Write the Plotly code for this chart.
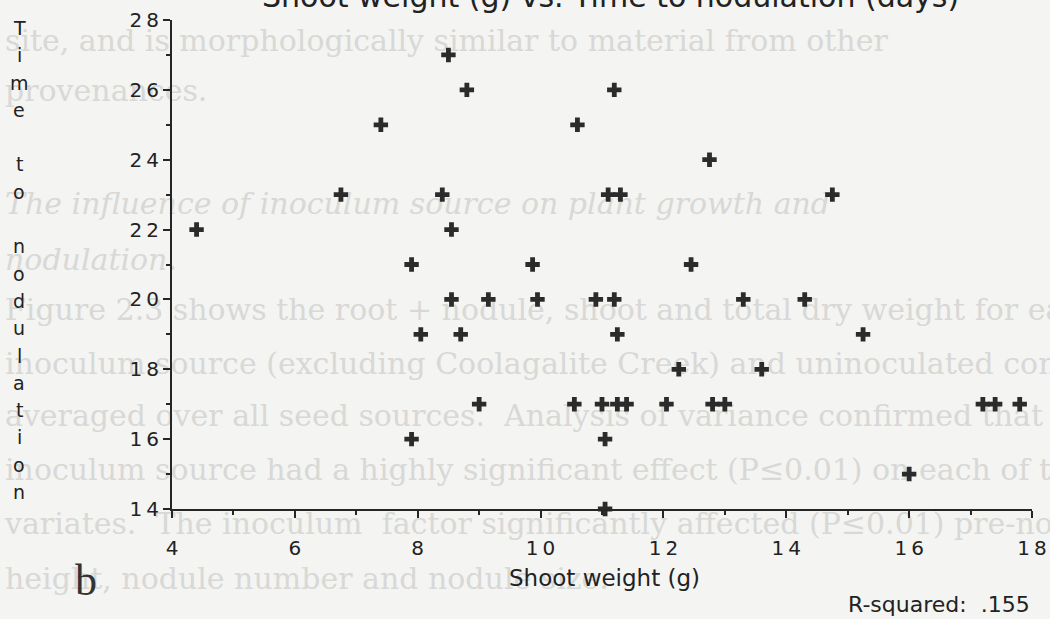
import plotly.graph_objects as go

# ---------------- data ----------------
shoot_weight = [4.4, 6.75, 7.4, 8.5, 8.8, 8.4, 8.55, 7.9, 8.55, 9.15, 8.05, 8.7, 9.95, 9.0, 7.9, 10.55,
                11.2, 10.6, 12.75, 11.1, 11.3, 14.75, 9.87, 12.45,
                10.9, 11.2, 11.25, 12.25, 13.3, 14.3, 13.6, 15.25,
                11.0, 11.25, 11.4, 12.05, 12.8, 13.0, 11.05, 11.05, 16.0, 17.2, 17.4, 17.8]
time_to_nodulation = [22, 23, 25, 27, 26, 23, 22, 21, 20, 20, 19, 19, 20, 17, 16, 17,
                      26, 25, 24, 23, 23, 23, 21, 21,
                      20, 20, 19, 18, 20, 20, 18, 19,
                      17, 17, 17, 17, 17, 17, 16, 14, 15, 17, 17, 17]
x_ticks = [4, 6, 8, 10, 12, 14, 16, 18]
y_ticks = [14, 16, 18, 20, 22, 24, 26, 28]
title_text = "Shoot weight (g) vs. Time to nodulation (days)"
x_title = "Shoot weight (g)"
y_title = "Time to nodulation"
r_squared = "R-squared:  .155"
panel_label = "b"
page_lines = [
    ("site, and is morphologically similar to material from other", False, 38),
    ("provenances.", False, 88),
    ("The influence of inoculum source on plant growth and", True, 201),
    ("nodulation.", True, 257),
    ("Figure 2.3 shows the root + nodule, shoot and total dry weight for each", False, 307),
    ("inoculum source (excluding Coolagalite Creek) and uninoculated control", False, 361),
    ("averaged over all seed sources.  Analysis of variance confirmed that", False, 413),
    ("inoculum source had a highly significant effect (P\u22640.01) on each of the", False, 467),
    ("variates.  The inoculum  factor significantly affected (P\u22640.01) pre-nodulation", False, 521),
    ("height, nodule number and nodule size.", False, 576),
]

# ---------------- layout geometry ----------------
W, H = 1050, 619
L, R, T, B = 172, 18, 20, 110
PW, PH = W - L - R, H - T - B


def px(x):
    return (x - L) / PW


def py(y):
    return (H - B - y) / PH


BG = "#f4f4f2"
INK = "#262626"
SANS = "DejaVu Sans, Arial, sans-serif"
SERIF = "DejaVu Serif, Liberation Serif, serif"
THIN = "\u2009"

fig = go.Figure()
fig.add_trace(go.Scatter(
    x=shoot_weight, y=time_to_nodulation, mode="markers",
    marker=dict(symbol="cross", size=12, color="#2b2b2b", line=dict(width=0)),
    cliponaxis=False, showlegend=False, hoverinfo="x+y",
))

# faint page text showing through (drawn below the data)
shapes = []
for text, italic, yc in page_lines:
    shapes.append(dict(
        type="rect", xref="paper", yref="paper", layer="below",
        x0=px(2), x1=px(1300), y0=py(yc + 18), y1=py(yc - 18),
        line=dict(width=0), fillcolor="rgba(0,0,0,0)",
        label=dict(text=text, textposition="middle left", padding=0,
                   font=dict(family=SERIF, size=30, color="#d8d8d6",
                             style="italic" if italic else "normal")),
    ))

axis_common = dict(
    showline=True, linecolor=INK, linewidth=2, mirror=False,
    ticks="outside", ticklen=7, tickwidth=2, tickcolor=INK,
    showgrid=False, zeroline=False,
    tickfont=dict(family=SANS, size=20, color="#222"),
    minor=dict(dtick=1, ticks="outside", ticklen=4, tickwidth=1.5, tickcolor=INK, showgrid=False),
)

fig.update_layout(
    width=W, height=H,
    margin=dict(l=L, r=R, t=T, b=B, autoexpand=False),
    paper_bgcolor=BG, plot_bgcolor=BG,
    shapes=shapes,
    xaxis=dict(range=[4, 18], tickvals=x_ticks,
               ticktext=[THIN.join(str(v)) for v in x_ticks],
               ticklabelstandoff=13, **axis_common),
    yaxis=dict(range=[14, 28], tickvals=y_ticks,
               ticktext=[THIN.join(str(v)) for v in y_ticks],
               ticklabelstandoff=0, **axis_common),
    showlegend=False,
)

annotations = [
    dict(text=title_text, xref="paper", yref="paper", x=px(610), y=py(16),
         xanchor="center", yanchor="bottom", showarrow=False,
         font=dict(family=SANS, size=30, color="#222")),
    dict(text=x_title, xref="paper", yref="paper", x=px(604), y=py(578),
         xanchor="center", yanchor="middle", showarrow=False,
         font=dict(family=SANS, size=23, color="#222")),
    dict(text=r_squared, xref="paper", yref="paper", x=px(1032), y=py(604),
         xanchor="right", yanchor="middle", showarrow=False,
         font=dict(family=SANS, size=22, color="#222")),
    dict(text=panel_label, xref="paper", yref="paper", x=px(86), y=py(580),
         xanchor="center", yanchor="middle", showarrow=False,
         font=dict(family="Liberation Serif, Times New Roman, serif", size=44, color="#333")),
]
# vertical stacked y-axis title: one letter per line, a blank line between words
lines = []
for word in y_title.split(" "):
    lines.extend(list(word))
    lines.append("")
lines = lines[:-1]
top, bottom = 28, 492
step = (bottom - top) / (len(lines) - 1)
for i, ch in enumerate(lines):
    if ch:
        annotations.append(dict(text=ch, xref="paper", yref="paper", x=px(19), y=py(top + i * step),
                                xanchor="center", yanchor="middle", showarrow=False,
                                font=dict(family=SANS, size=19, color="#222")))
fig.update_layout(annotations=annotations)

fig.write_html("out.html")
